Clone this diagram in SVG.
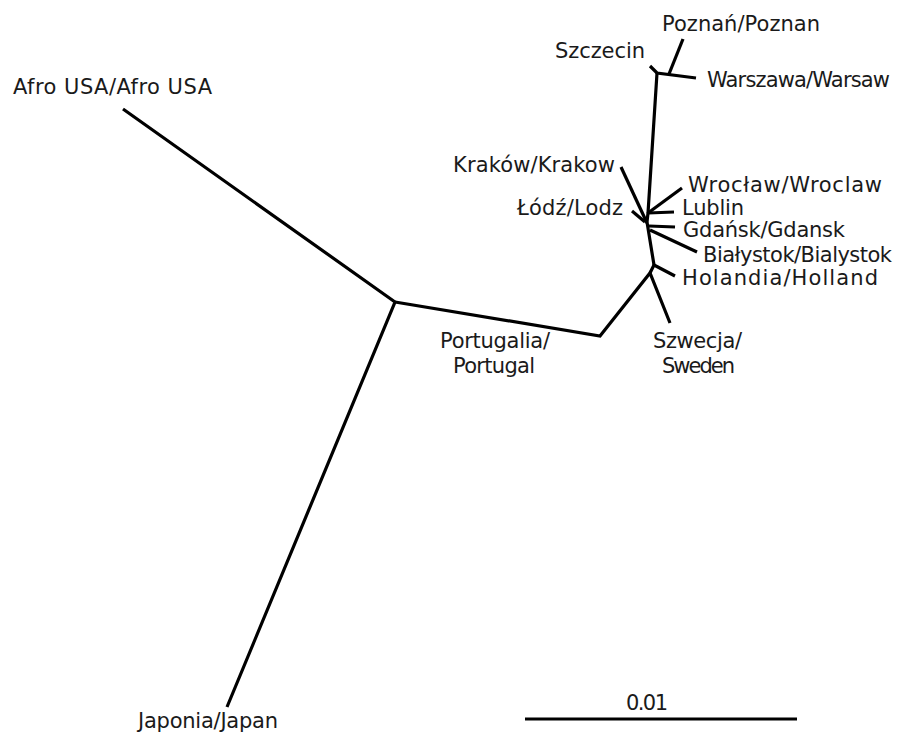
<svg xmlns="http://www.w3.org/2000/svg" width="906" height="733" viewBox="0 0 906 733">
<style>
.e{fill:none;stroke:#000;stroke-width:3.2;stroke-linecap:butt;stroke-linejoin:miter}
text{font-family:"DejaVu Sans","Liberation Sans",sans-serif;font-size:21px;fill:#1a1a1a}
</style>
<rect width="906" height="733" fill="#fff"/>
<g id="connectors">
<path class="e" d="M123,109 L395,302 L227,707"/>
<path class="e" d="M395,302 L600,336 L650,273 L670,323"/>
<path class="e" d="M650,273 L654,265 L675,276"/>
<path class="e" d="M654,265 L647,222 L648,213 L657,73"/>
<path class="e" d="M650,230 L697,252"/>
<path class="e" d="M649,226 L675,227"/>
<path class="e" d="M621,167 L647,223"/>
<path class="e" d="M632,211 L645,222"/>
<path class="e" d="M682,188 L648,213"/>
<path class="e" d="M674,212 L648,213"/>
<path class="e" d="M650,66 L657,73 L696,78"/>
<path class="e" d="M683,39 L669,74"/>
</g>
<g id="afro"><text x="13" y="94" textLength="199">Afro USA/Afro USA</text></g>
<g id="japan"><text x="138" y="728" textLength="140">Japonia/Japan</text></g>
<g id="portugal"><text x="440" y="348" textLength="110">Portugalia/</text><text x="453" y="373" textLength="82">Portugal</text></g>
<g id="sweden"><text x="653" y="348" textLength="89">Szwecja/</text><text x="662" y="373" textLength="73">Sweden</text></g>
<g id="holland"><text x="682" y="285" textLength="196">Holandia/Holland</text></g>
<g id="bialystok"><text x="703" y="262" textLength="189">Białystok/Bialystok</text></g>
<g id="gdansk"><text x="683" y="237" textLength="162">Gdańsk/Gdansk</text></g>
<g id="lublin"><text x="682" y="215" textLength="62">Lublin</text></g>
<g id="wroclaw"><text x="688" y="192" textLength="194">Wrocław/Wroclaw</text></g>
<g id="lodz"><text x="517" y="215" textLength="106">Łódź/Lodz</text></g>
<g id="krakow"><text x="453" y="172" textLength="162">Kraków/Krakow</text></g>
<g id="szczecin"><text x="555" y="58" textLength="90">Szczecin</text></g>
<g id="poznan"><text x="662" y="31" textLength="158">Poznań/Poznan</text></g>
<g id="warsaw"><text x="707" y="87" textLength="183">Warszawa/Warsaw</text></g>
<g id="scalebar">
<line class="e" x1="525" y1="719" x2="797" y2="719"/>
<text x="626" y="710" textLength="42">0.01</text>
</g>
</svg>
